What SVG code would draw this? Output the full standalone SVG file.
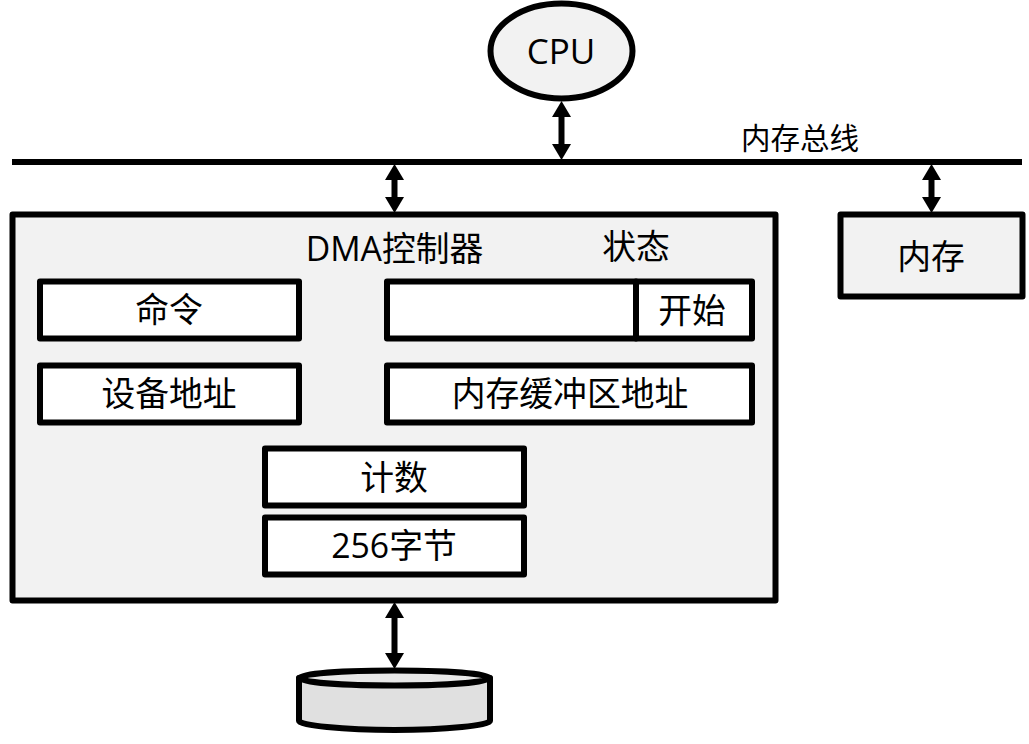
<svg xmlns="http://www.w3.org/2000/svg" width="1029" height="744" viewBox="0 0 1029 744">
<defs>
<marker id="ah" markerUnits="userSpaceOnUse" markerWidth="17" markerHeight="20" refX="8" refY="10" orient="auto-start-reverse"><path d="M0 0.500L16 10L0 19.500Z" fill="#000"/></marker>
</defs>
<style>
.box{fill:#fff;stroke:#000;stroke-width:6;stroke-linejoin:round}
.shade{fill:#f2f2f2;stroke:#000;stroke-width:6;stroke-linejoin:round}
.conn{fill:none;stroke:#000;stroke-width:6;marker-start:url(#ah);marker-end:url(#ah)}
text{font-family:"Open Sans","Noto Sans CJK SC",sans-serif;font-size:33.800px;fill:#000;text-anchor:middle}
</style>
<rect width="1029" height="744" fill="#fff"/>
<g id="bus"><line x1="12" y1="162" x2="1022" y2="162" stroke="#000" stroke-width="6"/><text x="800" y="149" style="font-size:29.500px">内存总线</text></g>
<g id="cpu"><ellipse class="shade" cx="561.500" cy="51" rx="71" ry="47.500"/><text x="561" y="64" style="font-size:35px">CPU</text></g>
<g id="controller"><rect class="shade" x="12.500" y="214.500" width="763" height="386"/><text x="394.500" y="261">DMA控制器</text><text x="636" y="259">状态</text></g>
<g id="memory"><rect class="shade" x="840.500" y="214.500" width="182" height="82"/><text x="931" y="269">内存</text></g>
<g id="cmd"><rect class="box" x="40" y="281.500" width="259" height="57"/><text x="169" y="322">命令</text></g>
<g id="status"><rect class="box" x="387" y="281.500" width="249" height="57"/></g>
<g id="start"><rect class="box" x="636" y="281.500" width="116" height="57"/><text x="692" y="323">开始</text></g>
<g id="devaddr"><rect class="box" x="40" y="365.500" width="259" height="57"/><text x="169" y="406">设备地址</text></g>
<g id="memaddr"><rect class="box" x="387" y="365.500" width="365" height="57"/><text x="570" y="406">内存缓冲区地址</text></g>
<g id="count"><rect class="box" x="265" y="448.500" width="259" height="57"/><text x="394" y="490">计数</text></g>
<g id="bytes"><rect class="box" x="265" y="517.500" width="259" height="57"/><text x="394" y="558">256字节</text></g>
<g id="disk"><path d="M299 678V721C299 725 342 730 394.500 730S490 725 490 721V678Z" fill="#e0e0e0" stroke="#000" stroke-width="6" stroke-linejoin="round"/><ellipse cx="394.500" cy="678" rx="95.500" ry="7.500" fill="#e8e8e8" stroke="#000" stroke-width="6"/></g>
<g id="connectors">
<line class="conn" x1="561.500" y1="109" x2="561.500" y2="152"/>
<line class="conn" x1="394.500" y1="172" x2="394.500" y2="205"/>
<line class="conn" x1="931.500" y1="172" x2="931.500" y2="205"/>
<line class="conn" x1="394.500" y1="610" x2="394.500" y2="661"/>
</g>
</svg>
